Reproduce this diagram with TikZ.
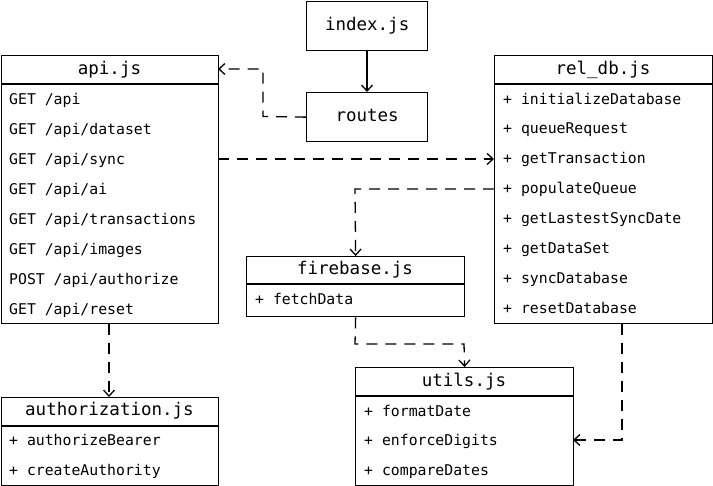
\documentclass[tikz,border=0pt]{standalone}
\usepackage{fontspec}
\newfontfamily\monofam{DejaVu Sans Mono}
\usetikzlibrary{arrows.meta}
\tikzset{
  box/.style={draw=black, line width=1.3pt, rectangle, anchor=north west, inner sep=0pt},
  ttl/.style={font=\monofam\fontsize{17.5}{20}\selectfont, inner sep=0pt, text height=12pt, text depth=2.5pt},
  row/.style={font=\monofam\fontsize{14.8}{17}\selectfont, anchor=west, inner sep=0pt, text height=10.5pt, text depth=0.5pt},
  sep/.style={line width=1.3pt},
  dep/.style={line width=1.3pt, dash pattern=on 11pt off 8pt, -{Straight Barb[length=6pt,width=11pt,line width=1.3pt]}},
  solidarr/.style={line width=1.3pt, -{Straight Barb[length=6pt,width=11pt,line width=1.3pt]}}
}
\begin{document}
\begin{tikzpicture}[x=1pt,y=-1pt]
\useasboundingbox (0,0) rectangle (713,486);
% index.js and routes
\node[box, minimum width=121pt, minimum height=49pt] (index) at (306,1) {};
\node[ttl] (indext) at (index.center) {index.js};
\node[box, minimum width=121pt, minimum height=49pt] (routes) at (306,92) {};
\node[ttl] (routest) at (routes.center) {routes};
% api.js
\node[box, minimum width=217pt, minimum height=268pt] (api) at (1,55) {};
\node[ttl] (apit) at (109.5,69.5) {api.js};
\draw[sep] (1,84) -- (218,84);
\node[row] (a1) at (9,100) {GET /api};
\node[row] (a2) at (9,130) {GET /api/dataset};
\node[row] (a3) at (9,160) {GET /api/sync};
\node[row] (a4) at (9,190) {GET /api/ai};
\node[row] (a5) at (9,220) {GET /api/transactions};
\node[row] (a6) at (9,250) {GET /api/images};
\node[row] (a7) at (9,280) {POST /api/authorize};
\node[row] (a8) at (9,310) {GET /api/reset};
% rel_db.js
\node[box, minimum width=218pt, minimum height=268pt] (rel) at (494,55) {};
\node[ttl] (relt) at (603,69.5) {rel\_db.js};
\draw[sep] (494,84) -- (712,84);
\node[row] (r1) at (503,100) {+ initializeDatabase};
\node[row] (r2) at (503,129) {+ queueRequest};
\node[row] (r3) at (503,159) {+ getTransaction};
\node[row] (r4) at (503,189) {+ populateQueue};
\node[row] (r5) at (503,219) {+ getLastestSyncDate};
\node[row] (r6) at (503,249) {+ getDataSet};
\node[row] (r7) at (503,279) {+ syncDatabase};
\node[row] (r8) at (503,309) {+ resetDatabase};
% firebase.js
\node[box, minimum width=218pt, minimum height=60pt] (fb) at (246,256) {};
\node[ttl] (fbt) at (355,270) {firebase.js};
\draw[sep] (246,284) -- (464,284);
\node[row] (f1) at (255,300) {+ fetchData};
% utils.js
\node[box, minimum width=218pt, minimum height=118pt] (ut) at (355,367) {};
\node[ttl] (utt) at (464,381.5) {utils.js};
\draw[sep] (355,396) -- (573,396);
\node[row] (u1) at (364,412) {+ formatDate};
\node[row] (u2) at (364,441) {+ enforceDigits};
\node[row] (u3) at (364,471) {+ compareDates};
% authorization.js
\node[box, minimum width=217pt, minimum height=88pt] (au) at (1,397) {};
\node[ttl] (aut) at (109.5,411) {authorization.js};
\draw[sep] (1,426) -- (218,426);
\node[row] (au1) at (9,441) {+ authorizeBearer};
\node[row] (au2) at (9,471) {+ createAuthority};
% connectors
\coordinate (apiIn) at (218,69);
\coordinate (apiOut) at (218,159);
\coordinate (relIn) at (494,159);
\coordinate (relOut) at (494,189);
\coordinate (utIn) at (573,440);
\draw[solidarr] (index.south -| 367,0) -- (routes.north -| 367,0);
\draw[dep] (routes.west) -- (263,116.5) -- (263,69) -- (apiIn);
\draw[dep] (apiOut) -- (relIn);
\draw[dep] (relOut) -- (355,189) -- (fb.north);
\draw[dep] (fb.south) -- (355,344) -- (464,344) -- (ut.north);
\draw[dep] (rel.south -| 622,0) -- (622,440) -- (utIn);
\draw[dep] (api.south -| 109,0) -- (au.north -| 109,0);
\end{tikzpicture}
\end{document}
